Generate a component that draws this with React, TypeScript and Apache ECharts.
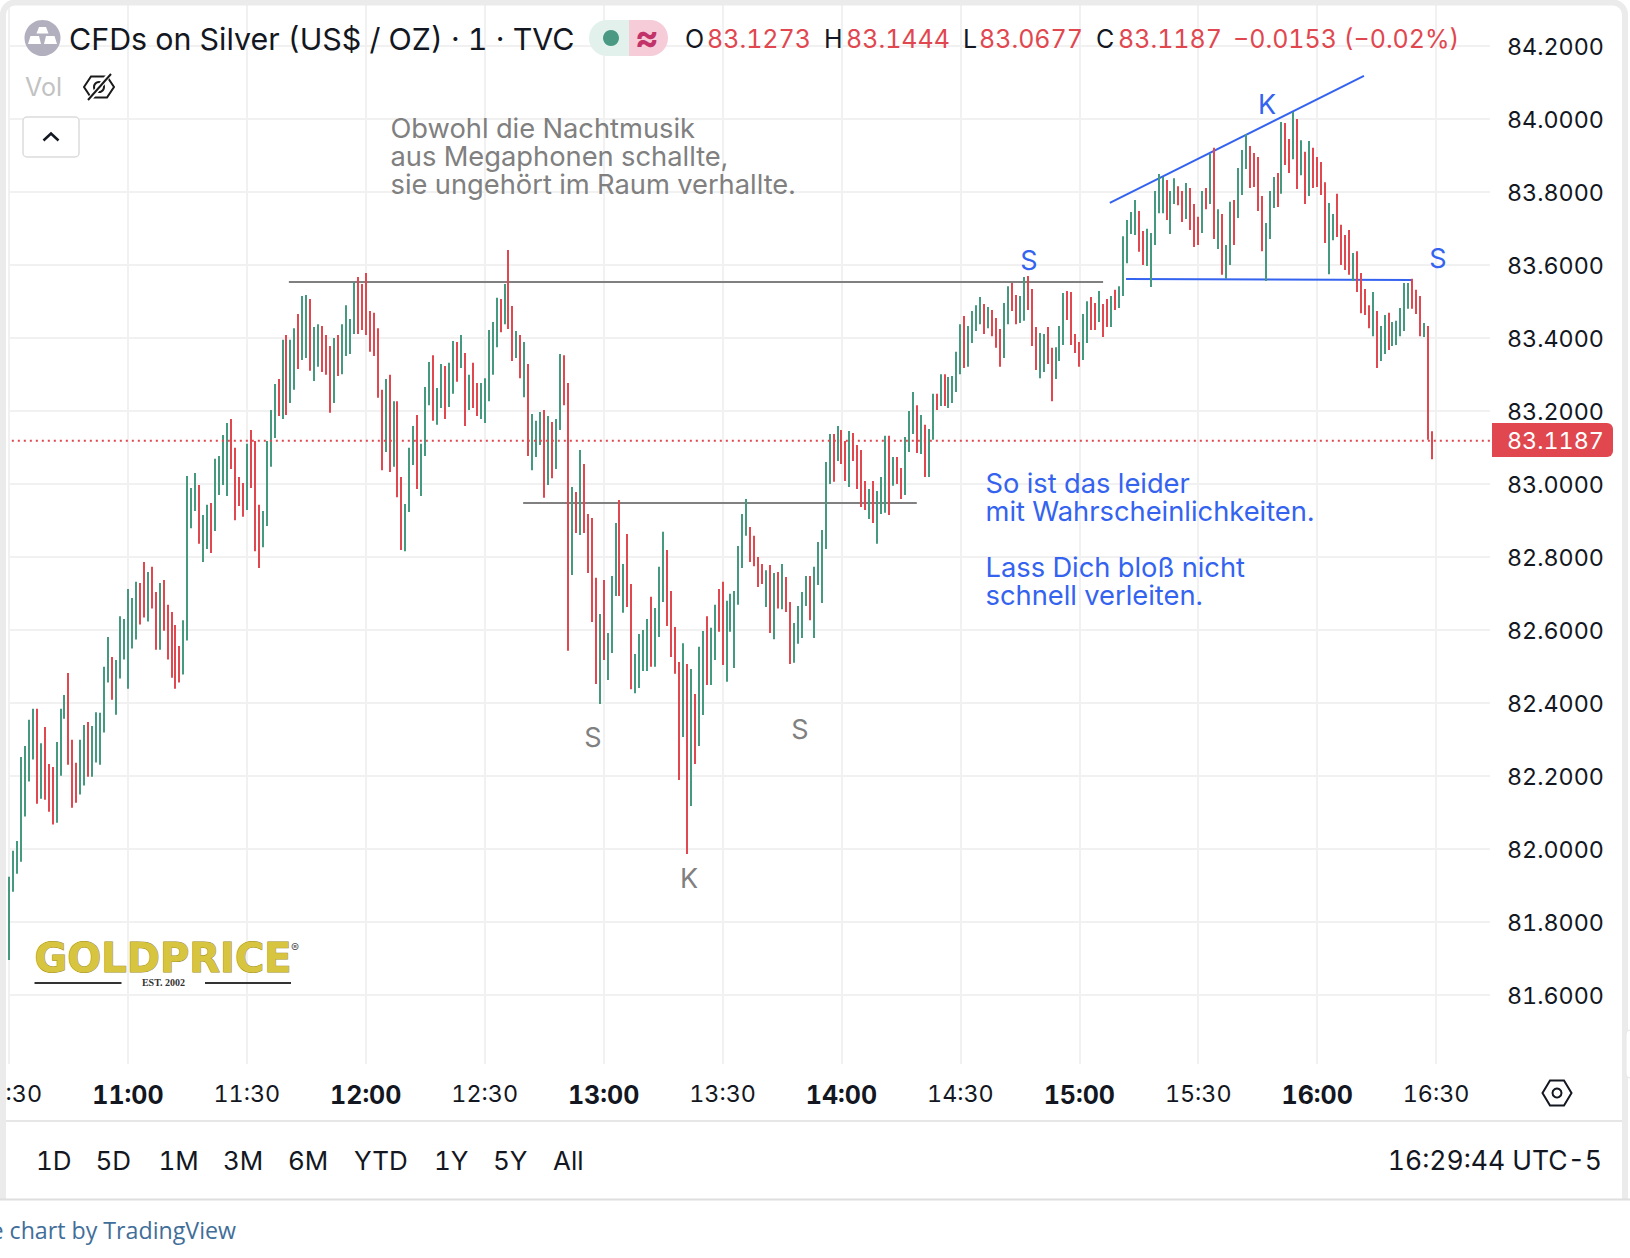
import React, { useEffect, useRef } from "react";
import * as echarts from "echarts";

const firstMinute = 630; // 10:30, one bar per minute
const highs = [
  81.924,81.995,82.022,82.252,82.282,82.354,82.384,82.384,82.290,82.334,
  82.233,82.225,82.293,82.384,82.422,82.482,82.299,82.236,82.299,82.340,
  82.348,82.337,82.375,82.373,82.499,82.581,82.526,82.518,82.638,82.630,
  82.712,82.688,82.732,82.729,82.786,82.759,82.773,82.704,82.729,82.737,
  82.669,82.649,82.614,82.556,82.627,83.022,82.989,83.030,82.997,82.915,
  82.943,82.948,83.069,83.077,83.134,83.167,83.178,83.099,83.019,83.003,
  83.110,83.148,83.118,82.943,82.926,83.118,83.203,83.274,83.288,83.395,
  83.408,83.395,83.427,83.466,83.515,83.518,83.507,83.430,83.438,83.433,
  83.408,83.378,83.400,83.408,83.438,83.490,83.452,83.553,83.567,83.548,
  83.578,83.474,83.469,83.427,83.258,83.288,83.299,83.227,83.227,83.019,
  82.945,83.099,83.159,83.189,83.110,83.266,83.334,83.353,83.263,83.329,
  83.323,83.332,83.392,83.389,83.408,83.359,83.299,83.332,83.277,83.277,
  83.290,83.422,83.444,83.510,83.507,83.548,83.641,83.488,83.419,83.408,
  83.389,83.329,83.192,83.173,83.197,83.203,83.186,83.170,83.178,83.356,
  83.353,83.277,82.992,82.978,83.093,83.055,82.918,82.907,82.743,82.644,
  82.737,82.592,82.748,82.893,82.956,82.781,82.863,82.726,82.534,82.589,
  82.600,82.630,82.691,82.660,82.773,82.869,82.819,82.707,82.608,82.512,
  82.564,82.507,82.493,82.425,82.554,82.597,82.638,82.606,82.669,82.712,
  82.732,82.680,82.699,82.707,82.830,82.918,82.959,82.882,82.858,82.800,
  82.781,82.764,82.778,82.756,82.759,82.781,82.745,82.677,82.619,82.666,
  82.704,82.748,82.748,82.773,82.841,82.874,83.060,83.137,83.137,83.159,
  83.148,83.118,83.145,83.140,83.107,83.093,83.008,82.986,83.008,82.981,
  83.019,83.132,83.132,83.074,83.074,83.044,83.129,83.200,83.252,83.216,
  83.189,83.162,83.151,83.247,83.247,83.301,83.301,83.293,83.296,83.362,
  83.438,83.460,83.433,83.474,83.490,83.512,83.493,83.485,83.477,83.455,
  83.425,83.496,83.542,83.551,83.518,83.515,83.567,83.570,83.534,83.430,
  83.414,83.411,83.430,83.373,83.375,83.433,83.523,83.529,83.526,83.411,
  83.389,83.466,83.501,83.512,83.496,83.529,83.493,83.507,83.515,83.532,
  83.542,83.679,83.723,83.745,83.778,83.748,83.693,83.699,83.688,83.803,
  83.849,83.841,83.833,83.803,83.838,83.816,83.803,83.825,83.811,83.767,
  83.732,83.803,83.811,83.904,83.921,83.753,83.740,83.655,83.773,83.778,
  83.866,83.915,83.959,83.926,83.907,83.896,83.789,83.715,83.803,83.841,
  83.852,83.992,83.989,83.945,84.019,84.000,83.942,83.910,83.940,83.921,
  83.896,83.882,83.827,83.770,83.740,83.795,83.710,83.682,83.696,83.633,
  83.638,83.578,83.534,83.490,83.526,83.474,83.433,83.463,83.469,83.444,
  83.447,83.482,83.551,83.551,83.562,83.532,83.515,83.441,83.433,83.1444,
];
const lows = [
  81.696,81.883,81.932,81.965,82.089,82.185,82.245,82.124,82.138,82.135,
  82.102,82.067,82.072,82.201,82.357,82.231,82.113,82.127,82.149,82.174,
  82.198,82.198,82.237,82.231,82.319,82.456,82.409,82.368,82.467,82.519,
  82.439,82.549,82.574,82.615,82.634,82.623,82.659,82.546,82.546,82.598,
  82.519,82.469,82.439,82.456,82.478,82.571,82.879,82.926,82.836,82.786,
  82.822,82.811,82.871,82.970,82.997,82.967,83.041,82.901,82.940,82.910,
  82.929,82.989,82.816,82.770,82.827,82.885,83.047,83.126,83.186,83.178,
  83.189,83.222,83.258,83.315,83.340,83.345,83.310,83.282,83.321,83.307,
  83.299,83.195,83.222,83.296,83.301,83.351,83.356,83.411,83.411,83.422,
  83.408,83.362,83.351,83.236,83.038,83.088,83.033,83.047,82.964,82.819,
  82.816,82.923,83.052,82.986,82.967,83.077,83.216,83.173,83.162,83.208,
  83.178,83.211,83.247,83.280,83.318,83.159,83.203,83.208,83.186,83.178,
  83.167,83.227,83.299,83.375,83.416,83.438,83.425,83.337,83.345,83.290,
  83.238,83.077,83.038,83.074,83.107,82.962,82.997,83.016,83.041,83.148,
  83.216,82.543,82.751,82.866,82.860,82.866,82.756,82.622,82.452,82.397,
  82.518,82.463,82.537,82.693,82.693,82.647,82.663,82.438,82.427,82.441,
  82.488,82.488,82.499,82.499,82.581,82.677,82.611,82.526,82.480,82.189,
  82.307,81.986,82.118,82.233,82.282,82.367,82.449,82.449,82.518,82.595,
  82.504,82.458,82.595,82.496,82.669,82.770,82.858,82.786,82.775,82.718,
  82.726,82.663,82.592,82.575,82.659,82.657,82.649,82.507,82.510,82.562,
  82.578,82.666,82.627,82.578,82.723,82.674,82.822,83.000,83.006,83.063,
  83.055,83.008,82.992,83.063,82.986,82.937,82.929,82.904,82.893,82.836,
  82.918,82.921,82.915,82.995,83.000,82.959,82.970,83.088,83.137,83.085,
  83.082,83.019,83.019,83.121,83.203,83.214,83.214,83.208,83.222,83.252,
  83.301,83.318,83.321,83.386,83.419,83.438,83.411,83.427,83.405,83.373,
  83.321,83.345,83.438,83.474,83.438,83.441,83.447,83.477,83.378,83.312,
  83.290,83.307,83.329,83.227,83.288,83.337,83.381,83.449,83.381,83.359,
  83.321,83.340,83.386,83.422,83.422,83.444,83.403,83.430,83.430,83.477,
  83.482,83.515,83.605,83.685,83.682,83.636,83.600,83.597,83.540,83.655,
  83.742,83.742,83.723,83.685,83.767,83.764,83.718,83.726,83.696,83.649,
  83.655,83.688,83.753,83.767,83.671,83.644,83.573,83.562,83.600,83.655,
  83.729,83.792,83.863,83.811,83.814,83.748,83.638,83.556,83.671,83.756,
  83.759,83.795,83.874,83.852,83.890,83.808,83.846,83.767,83.789,83.811,
  83.814,83.792,83.660,83.575,83.668,83.677,83.600,83.586,83.573,83.556,
  83.526,83.468,83.463,83.427,83.405,83.318,83.337,83.356,83.367,83.378,
  83.381,83.405,83.419,83.480,83.480,83.466,83.405,83.403,83.121,83.0677,
];
const directions = [
  "gggggggrgr","rrgggrrrgg","rgggggrggg","gggrrgrrgr","rrrrggggrg","grggggrrrr",
  "grrrggggrg","rggrggrggr","rrgrggggrr","rrrrrgrgrr","gggrgggrgg","rggrgrgrrg",
  "ggggrgrrgr","grgggrgrgg","rrgrgrrrrg","rgggrgrrgg","ggrgggrrrr","grgrggrggr",
  "rggggggrrr","rgrgrgrrgg","ggrgggggrg","rrgrrrrgrg","ggrgrrgggr","grggrgrggg",
  "grggggrgrr","rggrrggrrr","ggrrgggrrr","rggrrgrrgr","gggggrrggg","ggrggrrgrr",
  "rgrgrgrggr","gggrrrrggg","rgrrgrgrgr","rrrggrrrrg","rrrrgrggrg","ggggrrrgrr",
].join("");

const lastPrice = 83.1187;
const axisMaxMinute = 1003.6;
const resistanceLine = [[700.6, 83.5534], [906, 83.5534]];
const supportLine = [[759.7, 82.948], [859, 82.948]];
const necklineBlue = [[911.8, 83.5616], [983.9, 83.559]];
const trendlineBlue = [[907.7, 83.77], [971.8, 84.118]];
const lastPriceLine = [[629.2, lastPrice], [axisMaxMinute, lastPrice]];

const rangeTabs: [string, number][] = [["1D", 36], ["5D", 95.5], ["1M", 158.5], ["3M", 223], ["6M", 288], ["YTD", 354], ["1Y", 434], ["5Y", 493], ["All", 553]];
const ohlc: [string, string, number, number][] = [["O", "83.1273", 685, 707], ["H", "83.1444", 824, 846], ["L", "83.0677", 963, 979], ["C", "83.1187", 1096, 1118]];
const greyNote = ["Obwohl die Nachtmusik", "aus Megaphonen schallte,", "sie ungehört im Raum verhallte."];
const blueNote: [string, number][] = [["So ist das leider", 483], ["mit Wahrscheinlichkeiten.", 511.5], ["Lass Dich bloß nicht", 567], ["schnell verleiten.", 595]];

const FONT = "Inter, sans-serif";
const GREEN = "#45997f";
const RED = "#e1474f";
const BLUE = "#3463f0";
const GREY = "#808080";
const INK = "#131722";

const txt = (text: string, x: number, y: number, fontSize: number, fill: any, extra: any = {}) => ({
  type: "text", x, y, z: 110,
  style: { text, fontSize, fontFamily: extra.family || FONT, fontWeight: extra.weight || "normal", fill,
    textAlign: extra.align || "left", align: extra.align || "left", textVerticalAlign: "middle", verticalAlign: "middle", ...(extra.style || {}) },
});
const shape = (type: string, s: any, style: any, z = 110) => ({ type, shape: s, style, z });

const fmtMinute = (m: number) => `${Math.floor(m / 60)}:${String(m % 60).padStart(2, "0")}`;

export default function App() {
  const ref = useRef<HTMLDivElement>(null);
  useEffect(() => {
    const chart = echarts.init(ref.current!, null, { renderer: "svg" });
    const graphicEls: any[] = [
      // frame
      shape("rect", { x: 3, y: 2.5, width: 1622, height: 1230, r: 12 }, { fill: "none", stroke: "#ebebeb", lineWidth: 6 }, 100),
      shape("rect", { x: 0, y: 1200, width: 1630, height: 58 }, { fill: "#ffffff" }, 101),
      shape("rect", { x: 0, y: 1198.5, width: 1630, height: 2 }, { fill: "#dedede" }, 102),
      shape("rect", { x: 6, y: 1064, width: 1616, height: 6 }, { fill: "#ffffff" }, 90),
      shape("rect", { x: 6, y: 1120, width: 1616, height: 2 }, { fill: "#e6e6e6" }, 90),
      shape("rect", { x: 1626, y: 1030, width: 8, height: 48, r: 4 }, { fill: "#ffffff", stroke: "#e6e6e6", lineWidth: 1 }, 103),
      // symbol icon
      shape("circle", { cx: 42.5, cy: 38, r: 18 }, { fill: "#b2b0bf" }),
      shape("polygon", { points: [[36.5, 33.5], [48.5, 33.5], [46, 27], [39, 27]] }, { fill: "#ffffff" }),
      shape("polygon", { points: [[28, 44], [41, 44], [39, 36], [30.5, 36]] }, { fill: "#ffffff" }),
      shape("polygon", { points: [[44, 44], [57, 44], [54.5, 36], [46, 36]] }, { fill: "#ffffff" }),
      txt("CFDs on Silver (US$ / OZ) · 1 · TVC", 69, 38.5, 30.4, INK),
      // status pill
      shape("rect", { x: 589, y: 20, width: 40, height: 36, r: [18, 0, 0, 18] }, { fill: "#e3f1ed" }),
      shape("rect", { x: 629, y: 20, width: 39, height: 36, r: [0, 18, 18, 0] }, { fill: "#f5ccd8" }),
      shape("circle", { cx: 611, cy: 38, r: 8 }, { fill: "#4a9a83" }),
      txt("≈", 647, 37, 36, "#c2336a", { align: "center", weight: "bold" }),
      txt("−0.0153 (−0.02%)", 1233, 38.5, 25, RED),
      // Vol row
      txt("Vol", 25, 87, 25, "#c2c2c2"),
      shape("polygon", { points: [[84, 87], [91, 76.5], [107, 76.5], [114, 87], [107, 97.5], [91, 97.5]] }, { fill: "none", stroke: "#1a1a1a", lineWidth: 2 }),
      shape("circle", { cx: 99, cy: 87, r: 5 }, { fill: "none", stroke: "#1a1a1a", lineWidth: 2 }),
      shape("line", { x1: 109, y1: 75, x2: 89, y2: 100 }, { stroke: "#ffffff", lineWidth: 5 }),
      shape("line", { x1: 111, y1: 74, x2: 88, y2: 100 }, { stroke: "#1a1a1a", lineWidth: 2 }),
      // collapse button
      shape("rect", { x: 23, y: 117, width: 56, height: 40, r: 4 }, { fill: "#ffffff", stroke: "#dcdcdc", lineWidth: 1.5 }),
      shape("polyline", { points: [[43.5, 140.5], [51, 133.5], [58.5, 140.5]] }, { fill: "none", stroke: INK, lineWidth: 2.5 }),
      // logo
      txt("GOLDPRICE", 163, 957.5, 40, "#d8c53f", { align: "center", weight: "bold", family: "DejaVu Sans", style: { stroke: "#a08c20", lineWidth: 1 } }),
      txt("®", 295, 947, 12, "#555555", { align: "center" }),
      shape("rect", { x: 34.5, y: 982, width: 87, height: 2 }, { fill: "#333333" }),
      shape("rect", { x: 205, y: 982, width: 86, height: 2 }, { fill: "#333333" }),
      txt("EST. 2002", 163.5, 982, 10, "#333333", { align: "center", family: "Liberation Serif", weight: "bold" }),
      // pattern letters
      txt("S", 593, 737, 27, GREY, { align: "center" }),
      txt("S", 800, 729, 27, GREY, { align: "center" }),
      txt("K", 689, 878, 27, GREY, { align: "center" }),
      txt("S", 1029, 260, 27, BLUE, { align: "center" }),
      txt("K", 1267, 104, 27, BLUE, { align: "center" }),
      txt("S", 1438, 258, 27, BLUE, { align: "center" }),
      // last price tag
      shape("rect", { x: 1492, y: 423, width: 121, height: 34, r: [0, 6, 6, 0] }, { fill: "#e0474f" }),
      txt("83.1187", 1507, 440.5, 23.3, "#ffffff"),
      // bottom bars
      txt(":30", 42, 1093, 23.3, INK, { align: "right" }),
      shape("polygon", { points: [[1542.5, 1093], [1550, 1080.5], [1564, 1080.5], [1571.5, 1093], [1564, 1105.5], [1550, 1105.5]] }, { fill: "none", stroke: INK, lineWidth: 2 }),
      shape("circle", { cx: 1557, cy: 1093, r: 4.5 }, { fill: "none", stroke: INK, lineWidth: 2 }),
      txt("16:29:44 UTC-5", 1602, 1160, 26.5, INK, { align: "right" }),
      txt("e chart by TradingView", 236, 1230, 23.2, "#3f6e99", { align: "right", family: "Open Sans" }),
    ];
    ohlc.forEach(([k, v, kx, vx]) => {
      graphicEls.push(txt(k, kx, 38.5, 25, INK));
      graphicEls.push(txt(v, vx, 38.5, 25, RED));
    });
    rangeTabs.forEach(([t, x]) => graphicEls.push(txt(t, x, 1160.5, 26, INK)));
    greyNote.forEach((t, i) => graphicEls.push(txt(t, 390.5, 128.5 + i * 27.75, 27.3, GREY)));
    blueNote.forEach(([t, y]) => graphicEls.push(txt(t, 985.5, y, 27.3, BLUE)));

    const barData = highs.map((h, i) => [firstMinute + i, h, lows[i], directions[i] === "g" ? 1 : 0]);
    const lineSeries = (data: number[][], color: string, z = 1, type: any = "solid") => ({
      type: "line", data, symbol: "none", silent: true, z, clip: false, animation: false,
      lineStyle: { color, width: 2, type },
    });

    chart.setOption({
      animation: false,
      grid: { left: 9, width: 1481, top: 2.2, height: 1065.8, containLabel: false },
      xAxis: {
        type: "value", min: firstMinute, max: axisMaxMinute, interval: 30,
        axisLine: { show: false }, axisTick: { show: false },
        splitLine: { show: true, showMaxLine: false, lineStyle: { color: "#f1f1f1", width: 2 } },
        axisLabel: {
          margin: 14, showMaxLabel: true, hideOverlap: false,
          formatter: (m: number) => (m % 30 !== 0 || m === firstMinute ? "" : m % 60 === 0 ? `{b|${fmtMinute(m)}}` : `{r|${fmtMinute(m)}}`),
          rich: {
            b: { fontSize: 25, fontWeight: "bold", fontFamily: FONT, color: INK },
            r: { fontSize: 23.3, fontFamily: FONT, color: INK },
          },
        },
      },
      yAxis: {
        type: "value", position: "right", min: 81.4, max: 84.32, interval: 0.2,
        axisLine: { show: false }, axisTick: { show: false },
        splitLine: { show: true, showMinLine: false, showMaxLine: false, lineStyle: { color: "#f1f1f1", width: 2 } },
        axisLabel: {
          margin: 17, fontSize: 23.3, fontFamily: FONT, color: INK,
          formatter: (v: number) => (v < 81.5 || v > 84.3 ? "" : v.toFixed(4)),
        },
      },
      series: [
        lineSeries(resistanceLine, GREY),
        lineSeries(supportLine, GREY),
        lineSeries(necklineBlue, BLUE),
        lineSeries(trendlineBlue, BLUE),
        {
          type: "custom", z: 2, clip: false, silent: true, data: barData,
          encode: { x: 0, y: [1, 2] },
          renderItem: (_: any, api: any) => {
            const top = api.coord([api.value(0), api.value(1)]);
            const bottom = api.coord([api.value(0), api.value(2)]);
            return {
              type: "rect",
              shape: { x: Math.round(top[0]) - 1, y: top[1], width: 2, height: bottom[1] - top[1] },
              style: { fill: api.value(3) === 1 ? GREEN : RED },
            };
          },
        },
        lineSeries(lastPriceLine, RED, 3, [2, 4]),
      ],
      graphic: { elements: graphicEls },
    });
    return () => chart.dispose();
  }, []);
  return <div ref={ref} style={{ position: "fixed", left: 0, top: 0, width: 1630, height: 1258, background: "#ffffff", fontVariantNumeric: "tabular-nums", fontFeatureSettings: '"tnum"' }} />;
}
